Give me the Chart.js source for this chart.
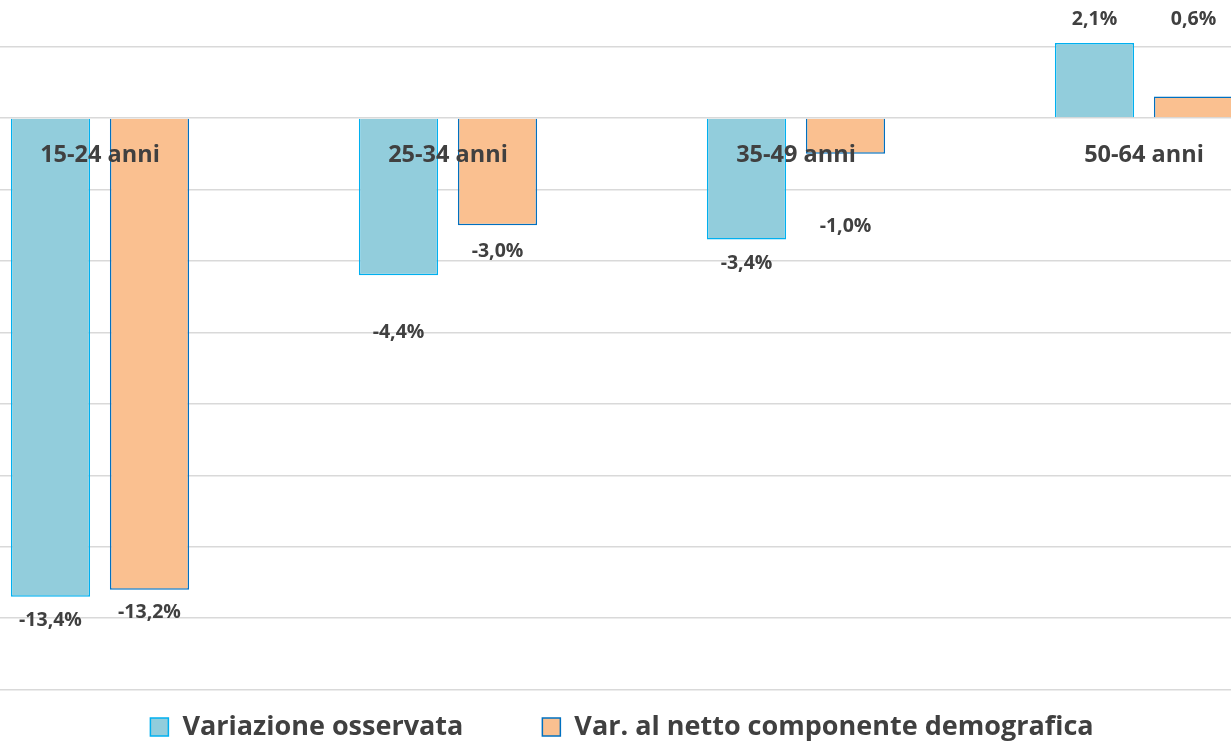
<!DOCTYPE html>
<html>
<head>
<meta charset="utf-8">
<script src="https://cdn.jsdelivr.net/npm/chart.js@4.4.1/dist/chart.umd.min.js"></script>
<style>
  html, body { margin: 0; padding: 0; background: #fff; overflow: hidden; }
  body { width: 1231px; height: 742px; position: relative; }
  #wrap { position: absolute; left: -74px; top: 0; width: 1392px; height: 750px; }
</style>
</head>
<body>
<div id="wrap"><canvas id="myChart"></canvas></div>
<script>
const categories = ["15-24 anni", "25-34 anni", "35-49 anni", "50-64 anni"];
const observed = [-13.4, -4.4, -3.4, 2.1];
const netOfDemography = [-13.2, -3.0, -1.0, 0.6];
const seriesNames = ["Variazione osservata", "Var. al netto componente demografica"];
const gridValues = [-16, -14, -12, -10, -8, -6, -4, -2, 0, 2];

// vertical nudges of the value labels (px), as placed in the original
const labelShift = [
  [24, 57, 24, -23],
  [23, 26, 73, -77]
];

const textColor = "#404040";
const fontFamily = "'Open Sans', sans-serif";

const fmt = (v) => v.toFixed(1).replace(".", ",") + "%";

const valueLabels = {
  id: "valueLabels",
  afterDatasetsDraw(chart) {
    const ctx = chart.ctx;
    ctx.save();
    ctx.font = "bold 19.5px " + fontFamily;
    ctx.fillStyle = textColor;
    ctx.textAlign = "center";
    ctx.textBaseline = "middle";
    chart.data.datasets.forEach((ds, i) => {
      chart.getDatasetMeta(i).data.forEach((bar, j) => {
        ctx.fillText(fmt(ds.data[j]), bar.x, bar.y + labelShift[i][j]);
      });
    });
    ctx.restore();
  }
};

const bottomLegend = {
  id: "bottomLegend",
  afterDraw(chart) {
    const ctx = chart.ctx;
    const box = 18, gapText = 14, gapItem = 79;
    ctx.save();
    ctx.font = "bold 27px " + fontFamily;
    const widths = chart.data.datasets.map((ds) => ctx.measureText(ds.label).width);
    let total = gapItem * (widths.length - 1);
    widths.forEach((w) => { total += box + gapText + w; });
    let x = (chart.width - total) / 2;
    const y = chart.chartArea.bottom + 23;
    chart.data.datasets.forEach((ds, i) => {
      ctx.fillStyle = ds.backgroundColor;
      ctx.fillRect(x, y - box / 2, box, box);
      ctx.strokeStyle = ds.borderColor;
      ctx.lineWidth = 1.5;
      ctx.strokeRect(x, y - box / 2, box, box);
      ctx.fillStyle = textColor;
      ctx.textBaseline = "middle";
      ctx.textAlign = "left";
      ctx.fillText(ds.label, x + box + gapText, y);
      x += box + gapText + widths[i] + gapItem;
    });
    ctx.restore();
  }
};

new Chart("myChart", {
  type: "bar",
  data: {
    labels: categories,
    datasets: [
      {
        label: seriesNames[0],
        data: observed,
        backgroundColor: "#92CDDC",
        borderColor: "#00B0F0",
        borderWidth: 1.5,
        barPercentage: 0.8,
        categoryPercentage: 0.569
      },
      {
        label: seriesNames[1],
        data: netOfDemography,
        backgroundColor: "#FAC090",
        borderColor: "#0070C0",
        borderWidth: 1.5,
        barPercentage: 0.8,
        categoryPercentage: 0.569
      }
    ]
  },
  options: {
    responsive: true,
    maintainAspectRatio: false,
    animation: false,
    layout: { padding: { top: 0, bottom: 46, left: 0, right: 0 } },
    plugins: {
      legend: { display: false },
      tooltip: { enabled: false }
    },
    scales: {
      x: {
        position: { y: 0 },
        grid: { display: false, drawTicks: false },
        border: { display: false },
        ticks: {
          z: 1,
          padding: 23,
          color: textColor,
          font: { family: fontFamily, size: 23.5, weight: "bold" }
        }
      },
      y: {
        min: -16.4,
        max: 3.3,
        grid: { color: "#d9d9d9", lineWidth: 1.5, drawTicks: false },
        border: { display: false },
        ticks: { display: false },
        afterBuildTicks: (scale) => {
          scale.ticks = gridValues.map((v) => ({ value: v }));
        }
      }
    }
  },
  plugins: [valueLabels, bottomLegend]
});
</script>
</body>
</html>
